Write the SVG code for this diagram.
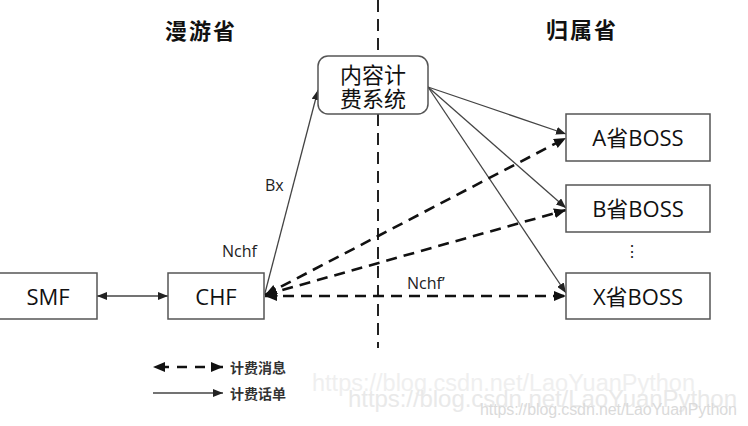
<svg xmlns="http://www.w3.org/2000/svg" width="748" height="426" viewBox="0 0 748 426">
<style>
.box{fill:#fff;stroke:#555;stroke-width:1.5}
.lbl{font-family:"Open Sans","Noto Sans CJK SC",sans-serif;font-size:22px;fill:#111;text-anchor:middle;dominant-baseline:central}
.title{font-family:"Noto Sans CJK SC",sans-serif;font-weight:bold;font-size:22px;fill:#111;letter-spacing:2px;text-anchor:middle;dominant-baseline:central}
.small{font-family:"Open Sans","Noto Sans CJK SC",sans-serif;font-size:16px;fill:#222;dominant-baseline:central}
.leg{font-family:"Noto Sans CJK SC",sans-serif;font-weight:bold;font-size:14px;fill:#333;dominant-baseline:central}
.sol{stroke:#444;stroke-width:1.3;fill:none}
.dsh{stroke:#111;stroke-width:2.6;fill:none;stroke-dasharray:11 7}
.wm{font-family:"Liberation Sans",sans-serif;dominant-baseline:central}
</style>
<defs>
<marker id="a" markerUnits="userSpaceOnUse" viewBox="0 0 10 8" refX="10" refY="4" markerWidth="10" markerHeight="8" orient="auto-start-reverse">
<path d="M0,0 L10,4 L0,8 z" fill="#222"/>
</marker>
<marker id="ad" markerUnits="userSpaceOnUse" viewBox="0 0 12 10" refX="12" refY="5" markerWidth="12" markerHeight="10" orient="auto-start-reverse">
<path d="M0,0 L12,5 L0,10 z" fill="#111"/>
</marker>
</defs>
<rect width="748" height="426" fill="#fff"/>
<line x1="378" y1="0" x2="378" y2="348" stroke="#222" stroke-width="2" stroke-dasharray="12 7"/>
<text class="title" x="201" y="29">漫游省</text>
<text class="title" x="582" y="28">归属省</text>
<g id="connectors">
<line class="sol" x1="97" y1="296" x2="168" y2="296" marker-start="url(#a)" marker-end="url(#a)"/>
<line class="sol" x1="265" y1="293" x2="318" y2="90" marker-end="url(#a)"/>
<line class="sol" x1="428" y1="87" x2="566" y2="134" marker-end="url(#a)"/>
<line class="sol" x1="428" y1="87" x2="566" y2="208" marker-end="url(#a)"/>
<line class="sol" x1="428" y1="87" x2="566" y2="293" marker-end="url(#a)"/>
<line class="dsh" x1="265" y1="295" x2="566" y2="138" marker-start="url(#ad)" marker-end="url(#ad)"/>
<line class="dsh" x1="265" y1="295" x2="566" y2="210" marker-start="url(#ad)" marker-end="url(#ad)"/>
<line class="dsh" x1="265" y1="296" x2="566" y2="296" marker-start="url(#ad)" marker-end="url(#ad)"/>
<text class="small" x="265" y="185">Bx</text>
<text class="small" x="222" y="251">Nchf</text>
<text class="small" x="407" y="283">Nchf’</text>
</g>
<g id="billing">
<rect class="box" x="318" y="56" width="110" height="58" rx="10"/>
<text class="lbl" x="373" y="74" font-size="21">内容计</text>
<text class="lbl" x="373" y="98" font-size="21">费系统</text>
</g>
<g id="smf">
<rect class="box" x="-1" y="273" width="98" height="46"/>
<text class="lbl" x="48" y="296">SMF</text>
</g>
<g id="chf">
<rect class="box" x="168" y="273" width="96" height="46"/>
<text class="lbl" x="216" y="296">CHF</text>
</g>
<g id="bossA">
<rect class="box" x="566" y="114" width="144" height="47"/>
<text class="lbl" x="638" y="137">A省BOSS</text>
</g>
<g id="bossB">
<rect class="box" x="566" y="185" width="144" height="47"/>
<text class="lbl" x="638" y="208">B省BOSS</text>
</g>
<text class="small" x="632" y="251" text-anchor="middle" font-size="15">⋮</text>
<g id="bossX">
<rect class="box" x="566" y="273" width="144" height="46"/>
<text class="lbl" x="638" y="296">X省BOSS</text>
</g>
<g id="legend">
<line x1="153" y1="367" x2="223" y2="367" stroke="#111" stroke-width="2.6" stroke-dasharray="10 8" stroke-dashoffset="-6" marker-start="url(#ad)" marker-end="url(#ad)"/>
<text class="leg" x="230" y="367">计费消息</text>
<line class="sol" x1="153" y1="393" x2="223" y2="393" marker-end="url(#a)"/>
<text class="leg" x="230" y="393">计费话单</text>
</g>
<g id="watermark">
<text class="wm" x="312" y="383" font-size="23.5" fill="#efefef" textLength="383">https://blog.csdn.net/LaoYuanPython</text>
<text class="wm" x="348" y="398" font-size="24" fill="#e9e9e9" textLength="389">https://blog.csdn.net/LaoYuanPython</text>
<text class="wm" x="480" y="409" font-size="16" fill="#dadada" textLength="257">https://blog.csdn.net/LaoYuanPython</text>
</g>
</svg>
